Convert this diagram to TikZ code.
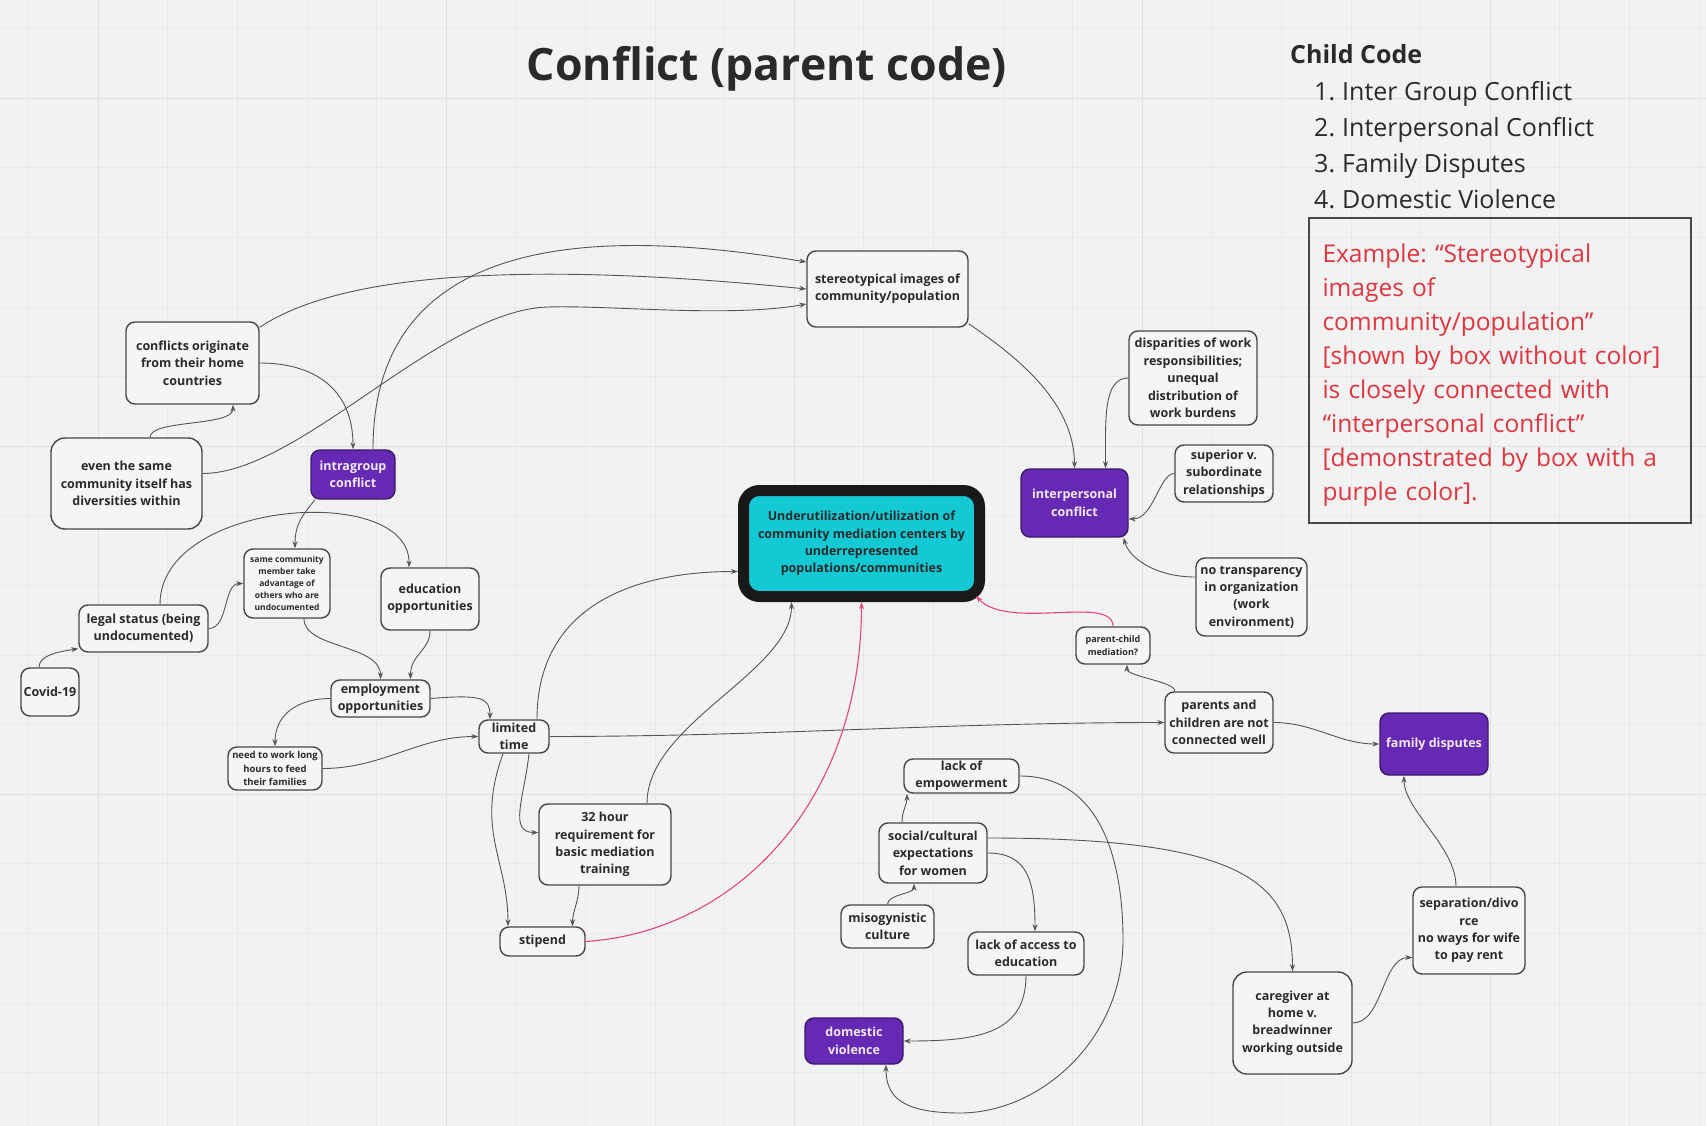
\documentclass[tikz,border=0pt]{standalone}
\usepackage{fontspec}
\setmainfont{Open Sans}
\usetikzlibrary{arrows.meta, calc}
\definecolor{boardGray}{HTML}{F2F2F2}
\definecolor{gridGray}{HTML}{E8E8E8}
\definecolor{gridMajor}{HTML}{E0E0E0}
\definecolor{lineGray}{HTML}{555555}
\definecolor{boxEdge}{HTML}{474747}
\definecolor{boxFill}{HTML}{F5F5F5}
\definecolor{codePurple}{HTML}{6629B3}
\definecolor{codeText}{HTML}{F3EAFF}
\definecolor{centerCyan}{HTML}{13C9D3}
\definecolor{linkPink}{HTML}{E5447F}
\definecolor{noteRed}{HTML}{E0353F}
\definecolor{inkDark}{HTML}{2A2A2A}
\frenchspacing
\tikzset{
    whitebox/.style={draw=boxEdge, fill=boxFill, line width=1.4pt, rounded corners=9pt,
        inner sep=0pt, align=center, text=inkDark, font=\bfseries\fontsize{12.5}{17.4}\selectfont},
    purplebox/.style={whitebox, draw=codePurple!60!black, fill=codePurple, text=codeText},
    smalltext/.style={font=\bfseries\fontsize{8.5}{12}\selectfont},
    mainbox/.style={draw=black!90, fill=centerCyan, line width=11pt, rounded corners=16pt,
        inner sep=0pt, align=center, text=inkDark, font=\bfseries\fontsize{12.5}{17.4}\selectfont},
    link/.style={->, draw=lineGray, line width=0.9pt},
    pinklink/.style={link, draw=linkPink, line width=1.1pt},
    listitem/.style={anchor=base west, inner sep=0pt, text=inkDark, font=\fontsize{25}{30}\selectfont}
}

\begin{document}
\begin{tikzpicture}[x=1pt, y=-1pt, >={Stealth[length=7pt,width=5pt]}]

    % board
    \useasboundingbox (0,0) rectangle (1706,1126);
    \fill[boardGray] (0,0) rectangle (1706,1126);
    \foreach \g in {0,...,24}
        \draw[gridGray, line width=0.8pt] ({28.5+69.6*\g},0) -- ++(0,1126);
    \foreach \g in {0,...,15}
        \draw[gridGray, line width=0.8pt] (0,{28.5+69.6*\g}) -- ++(1706,0);
    \foreach \g in {1,6,...,21}
        \draw[gridMajor, line width=1pt] ({28.5+69.6*\g},0) -- ++(0,1126);
    \foreach \g in {1,6,11}
        \draw[gridMajor, line width=1pt] (0,{28.5+69.6*\g}) -- ++(1706,0);

    % headings
    \node[text=inkDark, font=\bfseries\fontsize{44.6}{50}\selectfont] (title) at (767,69) {Conflict (parent code)};
    \node[anchor=base west, inner sep=0pt, text=inkDark, font=\bfseries\fontsize{25}{30}\selectfont] (childhead) at (1290,64) {Child Code};
    \foreach \i/\t in {1/Inter Group Conflict, 2/Interpersonal Conflict, 3/Family Disputes, 4/Domestic Violence}
        \node[listitem] (item\i) at (1314,{101+36*(\i-1)}) {\makebox[28pt][l]{\i.}\t};
    \node[draw=boxEdge, line width=1.3pt, minimum width=382pt, minimum height=305pt] (example) at (1500,370.5) {};
    \node[text width=355pt, align=left, inner sep=0pt, text=noteRed, font=\fontsize{24.5}{34}\selectfont] (exampletext) at (1500,375)
        {Example: “Stereotypical\\images of\\community/population”\\{[}shown by box without color]\\is closely connected with\\“interpersonal conflict”\\{[}demonstrated by box with a\\purple color].};

    % central code
    \node[mainbox, minimum width=236pt, minimum height=106pt] (main) at (861.5,543.5)
        {Underutilization/utilization of\\community mediation centers by\\underrepresented\\populations/communities};

    % left cluster
    \node[whitebox, minimum width=133pt, minimum height=82pt] (origin) at (192.5,363) {conflicts originate\\from their home\\countries};
    \node[whitebox, minimum width=151pt, minimum height=91pt, rounded corners=14pt] (even) at (126.5,483.5) {even the same\\community itself has\\diversities within};
    \node[purplebox, minimum width=84pt, minimum height=49pt] (intra) at (353,474.5) {intragroup\\conflict};
    \node[whitebox, minimum width=161pt, minimum height=76pt] (stereo) at (887.5,289) {stereotypical images of\\community/population};
    \node[whitebox, smalltext, minimum width=86pt, minimum height=69pt] (same) at (287,583.5) {same community\\member take\\advantage of\\others who are\\undocumented};
    \node[whitebox, minimum width=98pt, minimum height=62pt] (edu) at (430,599) {education\\opportunities};
    \node[whitebox, minimum width=129pt, minimum height=47pt] (legal) at (143.5,628.5) {legal status (being\\undocumented)};
    \node[whitebox, minimum width=58pt, minimum height=48pt] (covid) at (50,692) {Covid-19};
    \node[whitebox, minimum width=99pt, minimum height=37pt] (emp) at (380.5,698.5) {employment\\opportunities};
    \node[whitebox, font=\bfseries\fontsize{9.5}{13.5}\selectfont, minimum width=94pt, minimum height=43pt] (need) at (275,768.5) {need to work long\\hours to feed\\their families};
    \node[whitebox, minimum width=70pt, minimum height=33pt] (limited) at (514,736.5) {limited\\time};
    \node[whitebox, minimum width=132pt, minimum height=81pt] (hour) at (605,844.5) {32 hour\\requirement for\\basic mediation\\training};
    \node[whitebox, minimum width=85pt, minimum height=29pt] (stipend) at (542.5,941.5) {stipend};

    % right cluster
    \node[whitebox, minimum width=128pt, minimum height=94pt] (disp) at (1193,378) {disparities of work\\responsibilities;\\unequal\\distribution of\\work burdens};
    \node[whitebox, minimum width=98pt, minimum height=57pt] (superior) at (1224,473.5) {superior v.\\subordinate\\relationships};
    \node[purplebox, minimum width=107pt, minimum height=68pt] (ip) at (1074.5,503) {interpersonal\\conflict};
    \node[whitebox, minimum width=111pt, minimum height=78pt] (transp) at (1251.5,597) {no transparency\\in organization\\(work\\environment)};
    \node[whitebox, font=\bfseries\fontsize{9}{13}\selectfont, minimum width=74pt, minimum height=37pt] (pc) at (1113,645.5) {parent-child\\mediation?};
    \node[whitebox, minimum width=108pt, minimum height=61pt] (pcw) at (1219,722.5) {parents and\\children are not\\connected well};
    \node[purplebox, minimum width=108pt, minimum height=62pt] (family) at (1434,744) {family disputes};
    \node[whitebox, minimum width=112pt, minimum height=87pt] (sep) at (1469,930.5) {separation/divo\\rce\\no ways for wife\\to pay rent};
    \node[whitebox, minimum width=119pt, minimum height=102pt, rounded corners=14pt] (care) at (1292.5,1023) {caregiver at\\home v.\\breadwinner\\working outside};

    % bottom cluster
    \node[whitebox, minimum width=115pt, minimum height=34pt] (power) at (961.5,776) {lack of\\empowerment};
    \node[whitebox, minimum width=108pt, minimum height=60pt] (social) at (933,853) {social/cultural\\expectations\\for women};
    \node[whitebox, minimum width=93pt, minimum height=43pt] (miso) at (887.5,926.5) {misogynistic\\culture};
    \node[whitebox, minimum width=116pt, minimum height=43pt] (access) at (1026,953.5) {lack of access to\\education};
    \node[purplebox, minimum width=98pt, minimum height=46pt] (dv) at (854,1041) {domestic\\violence};

    \coordinate (evenbend) at (548,307);
    \coordinate (powerbend) at (1123,940);
    \coordinate (powerlow) at (960,1113);

    % connectors, left
    \draw[link] ($(intra.north)+(20,0)$) .. controls +(0,-230) and +(-180,-30) .. ($(stereo.west)+(0,-27)$);
    \draw[link] (origin.28) .. controls +(90,-60) and +(-250,-25) .. (stereo.west);
    \draw[link] ($(even.east)+(0,-10)$) .. controls +(97,0) and +(-108,3) .. (evenbend)
        .. controls +(62,-2) and +(-77,14) .. ($(stereo.west)+(0,15)$);
    \draw[link] (origin.east) .. controls +(55,0) and +(0,-60) .. (intra.north);
    \draw[link] ($(even.north)+(23.5,0)$) .. controls +(0,-18) and +(0,22) .. ($(origin.south)+(40.5,0)$);
    \draw[link] ($(intra.south)+(-38,0)$) .. controls +(-12,15) and +(0,-25) .. ($(same.north)+(8,0)$);
    \draw[link] ($(legal.north)+(16.5,0)$) .. controls +(0,-105) and +(1,-85) .. ($(edu.north)+(-21,0)$);
    \draw[link] (legal.east) .. controls +(20,0) and +(-20,0) .. (same.west);
    \draw[link] ($(covid.north)+(-11,0)$) .. controls +(0,-12) and +(-20,3) .. ($(legal.south west)+(0,-4)$);
    \draw[link] ($(same.south)+(17,0)$) .. controls +(0,30) and +(0,-35) .. (emp.north);
    \draw[link] (edu.south) .. controls +(0,20) and +(0,-25) .. ($(emp.north)+(30,0)$);
    \draw[link] (emp.west) .. controls +(-31,0) and +(0,-33) .. (need.north);
    \draw[link] (emp.east) .. controls +(50,-4) and +(0,-22) .. ($(limited.north)+(-24,0)$);
    \draw[link] (need.east) .. controls +(60,0) and +(-60,0) .. (limited.west);
    \draw[link] ($(limited.north)+(23,0)$) .. controls +(0,-110) and +(-110,0) .. ($(main.west)+(0,28)$);
    \draw[link] (limited.east) .. controls +(220,0) and +(-220,0) .. (pcw.west);
    \draw[link] ($(limited.south)+(-11,0)$) .. controls +(-28,77) and +(0,-67) .. ($(stipend.north)+(-34.5,0)$);
    \draw[link] ($(limited.south)+(15,0)$) .. controls +(-5,45) and +(-30,0) .. ($(hour.west)+(0,-12)$);
    \draw[link] ($(hour.south)+(-26,0)$) .. controls +(0,15) and +(0,-15) .. ($(stipend.north)+(30,0)$);
    \draw[link] ($(hour.north)+(42,0)$) .. controls +(0,-80) and +(0,70) .. ($(main.south)+(-70,0)$);
    \draw[pinklink] (stipend.east) .. controls +(150,-10) and +(0,200) .. (main.south);

    % connectors, right
    \draw[pinklink] (pc.north) .. controls +(0,-32) and +(32,35) .. ($(main.south east)+(-9,-6)$);
    \draw[link] ($(pcw.north)+(-44,0)$) .. controls +(0,-10) and +(0,12) .. ($(pc.south)+(14,0)$);
    \draw[link] (pcw.east) .. controls +(40,0) and +(-40,0) .. (family.west);
    \draw[link] ($(sep.north)+(-13,0)$) .. controls +(0,-40) and +(0,35) .. ($(family.south)+(-30,0)$);
    \draw[link] (care.east) .. controls +(30,0) and +(-30,0) .. ($(sep.west)+(0,27)$);
    \draw[link] ($(stereo.south east)+(0,-4)$) .. controls +(42,29) and +(0,-69) .. (ip.north);
    \draw[link] (disp.west) .. controls +(-25,0) and +(0,-50) .. ($(ip.north)+(31,0)$);
    \draw[link] (superior.west) .. controls +(-15,0) and +(25,0) .. ($(ip.east)+(0,16)$);
    \draw[link] ($(transp.west)+(0,-20)$) .. controls +(-40,0) and +(5,20) .. ($(ip.south east)+(-5,0)$);

    % connectors, bottom
    \draw[link] ($(social.east)+(0,-15)$) .. controls +(254,0) and +(0,-90) .. (care.north);
    \draw[link] (social.east) .. controls +(40,0) and +(0,-50) .. ($(access.north)+(9,0)$);
    \draw[link] ($(social.north)+(-31,0)$) .. controls +(0,-12) and +(0,12) .. ($(power.south)+(-54.5,0)$);
    \draw[link] (miso.north) .. controls +(0,-10) and +(0,10) .. ($(social.south)+(-19,0)$);
    \draw[link] (access.south) .. controls +(0,60) and +(70,0) .. (dv.east);
    \draw[link] (power.east) .. controls +(81,0) and +(0,-80) .. (powerbend)
        .. controls +(0,100) and +(80,0) .. (powerlow)
        .. controls +(-60,0) and +(0,31) .. ($(dv.south)+(32,0)$);
\end{tikzpicture}
\end{document}
